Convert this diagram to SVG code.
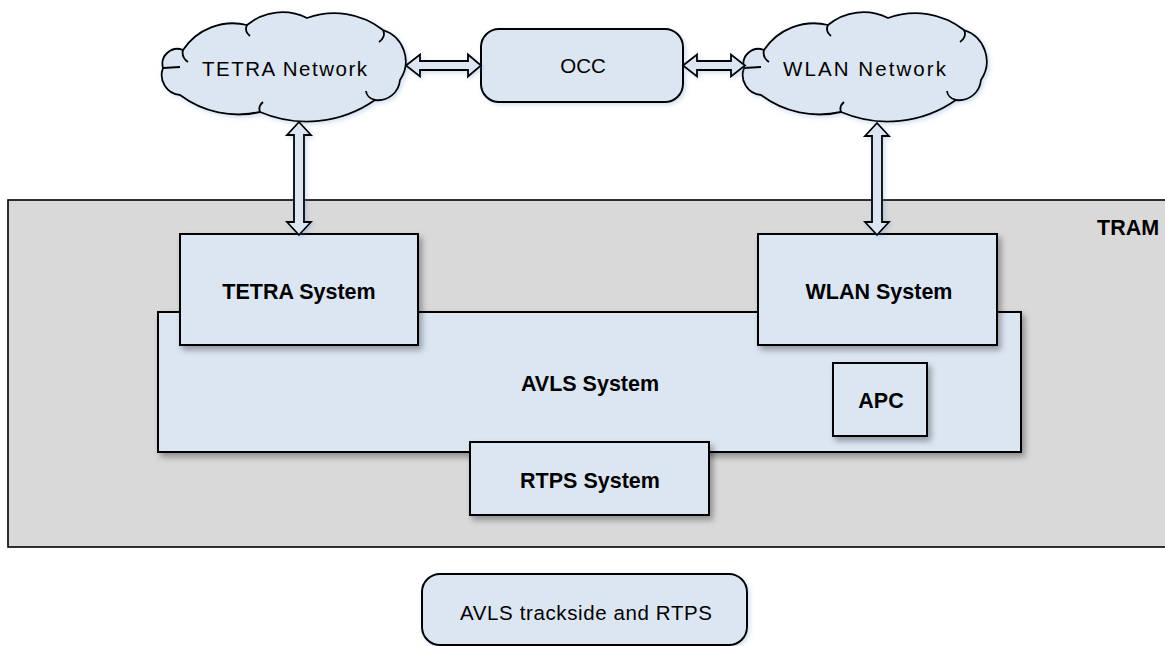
<svg xmlns="http://www.w3.org/2000/svg" width="1165" height="646" viewBox="0 0 1165 646">
<defs>
<style>
.box{fill:#dce6f2;stroke:#000;stroke-width:2}
.arr{fill:#dce6f2;stroke:#000;stroke-width:1.8;stroke-linejoin:miter}
.t{font-family:"Liberation Sans",Arial,sans-serif;font-size:20.5px;fill:#000}
.b{font-family:"Liberation Sans",Arial,sans-serif;font-size:21.5px;font-weight:bold;fill:#000}
.curl{fill:none;stroke:#000;stroke-width:1.8}
</style>
<filter id="sh" x="-10%" y="-10%" width="125%" height="130%">
<feDropShadow dx="3" dy="4" stdDeviation="3" flood-color="#000" flood-opacity="0.35"/>
</filter>
<filter id="glow" x="-20%" y="-20%" width="140%" height="140%">
<feDropShadow dx="2" dy="2" stdDeviation="2" flood-color="#4f81bd" flood-opacity="0.25"/>
</filter>
<path id="cloud" d="M3,56 A15,15 0 0 1 23,38 A60,60 0 0 1 87,13 A55,55 0 0 1 147,6 A79,79 0 0 1 223,18 A33,33 0 0 1 240,68 A22,22 0 0 1 215,88 A119,119 0 0 1 100,100 A97,97 0 0 1 20,83 A20,20 0 0 1 3,56 Z"/>
<path id="curls" d="M3,56 L20,55 M23,38 A14,12 0 0 0 28,50 M87,13 A12,10 0 0 0 90,24 M223,18 A12,10 0 0 1 219,30 M215,88 A12,10 0 0 1 206,79 M100,100 A12,10 0 0 1 103,90"/>
</defs>
<rect width="1165" height="646" fill="#fff"/>

<g id="tram">
<rect x="8" y="200" width="1170" height="347" fill="#d9d9d9" stroke="#000" stroke-width="1.6"/>
<text class="b" x="1097" y="235">TRAM</text>
</g>

<g id="avls">
<rect class="box" x="158" y="312" width="863" height="140" filter="url(#sh)"/>
<text class="b" x="590" y="391" text-anchor="middle">AVLS System</text>
</g>

<g id="tetra-system">
<rect class="box" x="180" y="234" width="238" height="111" filter="url(#sh)"/>
<text class="b" x="299" y="299" text-anchor="middle">TETRA System</text>
</g>

<g id="wlan-system">
<rect class="box" x="758" y="234" width="239" height="111" filter="url(#sh)"/>
<text class="b" x="879" y="299" text-anchor="middle">WLAN System</text>
</g>

<g id="apc">
<rect class="box" x="833" y="363" width="94" height="73" filter="url(#sh)"/>
<text class="b" x="881" y="408" text-anchor="middle">APC</text>
</g>

<g id="rtps-system">
<rect class="box" x="470" y="442" width="239" height="73" filter="url(#sh)"/>
<text class="b" x="590" y="488" text-anchor="middle">RTPS System</text>
</g>

<g id="avls-trackside">
<rect class="box" x="422" y="574" width="325" height="71" rx="18" filter="url(#glow)"/>
<text class="t" x="460" y="620" textLength="252" lengthAdjust="spacing">AVLS trackside and RTPS</text>
</g>

<g id="tetra-network">
<g transform="translate(160,12)">
<use href="#cloud" fill="#dce6f2" stroke="#000" stroke-width="1.8" filter="url(#glow)"/>
<use href="#curls" class="curl"/>
</g>
<text class="t" x="202" y="76" textLength="165" lengthAdjust="spacing">TETRA Network</text>
</g>

<g id="occ">
<rect class="box" x="481" y="29" width="202" height="73" rx="18" filter="url(#glow)"/>
<text class="t" x="583" y="73" text-anchor="middle">OCC</text>
</g>

<g id="wlan-network">
<g transform="translate(741,12)">
<use href="#cloud" fill="#dce6f2" stroke="#000" stroke-width="1.8" filter="url(#glow)"/>
<use href="#curls" class="curl"/>
</g>
<text class="t" x="783" y="76" textLength="163" lengthAdjust="spacing">WLAN Network</text>
</g>

<g id="connectors">
<polygon class="arr" filter="url(#glow)" points="406,65.5 420,54.5 420,61 468,61 468,54.5 481,65.5 468,76.5 468,70 420,70 420,76.5"/>
<polygon class="arr" filter="url(#glow)" points="683,65.5 697,54.5 697,61 731,61 731,54.5 745,65.5 731,76.5 731,70 697,70 697,76.5"/>
<polygon class="arr" filter="url(#glow)" points="299,122 311,135 304,135 304,222 311,222 299,235 287,222 294,222 294,135 287,135"/>
<polygon class="arr" filter="url(#glow)" points="877,123 889,136 882,136 882,222 889,222 877,235 865,222 872,222 872,136 865,136"/>
</g>
</svg>
